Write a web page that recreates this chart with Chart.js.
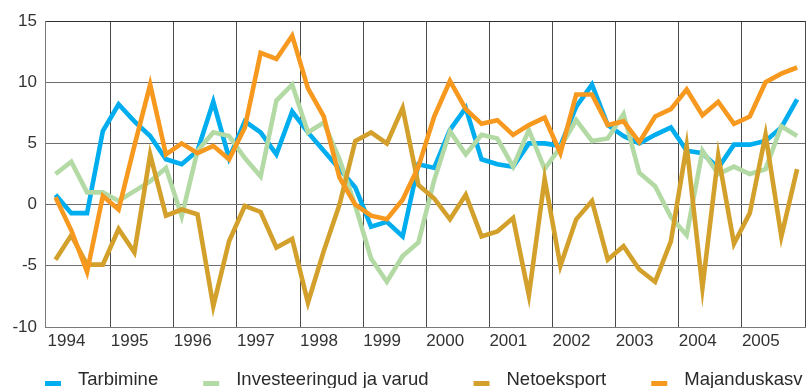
<!DOCTYPE html>
<html>
<head>
<meta charset="utf-8">
<script src="https://cdn.jsdelivr.net/npm/chart.js@4/dist/chart.umd.min.js"></script>
<style>
  html, body { margin: 0; padding: 0; background: #ffffff; }
  #wrap { width: 809px; height: 388px; position: relative; }
</style>
</head>
<body>
<div id="wrap"><canvas id="c" width="809" height="388"></canvas></div>
<script>
// Quarterly growth contributions, 1994–2005 (percentage points)
const years = [1994, 1995, 1996, 1997, 1998, 1999, 2000, 2001, 2002, 2003, 2004, 2005];
const quarters = years.flatMap(y => ['I', 'II', 'III', 'IV'].map(q => y + ' ' + q));

const seriesNames = ['Tarbimine', 'Investeeringud ja varud', 'Netoeksport', 'Majanduskasv'];

const tarbimine = [
  0.8, -0.7, -0.7, 6.0, 8.2, 6.8, 5.6, 3.7, 3.3, 4.4, 8.4, 3.8,
  6.8, 5.9, 4.1, 7.6, 5.9, 4.4, 2.9, 1.4, -1.8, -1.4, -2.6, 3.3,
  3.0, 6.1, 7.9, 3.7, 3.3, 3.1, 5.0, 5.0, 4.8, 8.0, 9.8, 6.5,
  5.6, 5.0, 5.7, 6.3, 4.4, 4.2, 3.0, 4.9, 4.9, 5.2, 6.3, 8.6
];
const investeeringud = [
  2.5, 3.5, 1.0, 1.0, 0.3, 1.1, 1.9, 3.0, -0.95, 4.4, 5.9, 5.6,
  3.8, 2.3, 8.5, 9.8, 5.9, 6.7, 3.7, -0.1, -4.4, -6.3, -4.2, -3.1,
  2.0, 6.0, 4.1, 5.7, 5.4, 3.1, 6.1, 2.9, 4.7, 6.9, 5.2, 5.4,
  7.4, 2.6, 1.5, -1.0, -2.5, 4.4, 2.5, 3.1, 2.5, 2.9, 6.4, 5.6
];
const netoeksport = [
  -4.5, -2.5, -4.9, -4.9, -2.0, -3.9, 4.1, -0.9, -0.4, -0.8, -8.3, -3.0,
  -0.1, -0.6, -3.5, -2.8, -8.0, -3.8, 0.0, 5.2, 5.9, 5.0, 7.9, 1.6,
  0.5, -1.2, 0.8, -2.6, -2.2, -1.1, -7.4, 2.1, -5.0, -1.2, 0.3, -4.5,
  -3.4, -5.3, -6.3, -3.0, 4.8, -6.8, 4.0, -3.2, -0.7, 5.7, -2.6, 2.9
];
const majanduskasv = [
  0.6, -2.1, -5.5, 0.7, -0.4, 4.8, 9.8, 4.1, 5.0, 4.2, 4.8, 3.7,
  6.3, 12.4, 11.9, 13.8, 9.5, 7.2, 2.2, 0.0, -0.9, -1.2, 0.4, 3.1,
  7.2, 10.1, 7.8, 6.6, 6.9, 5.7, 6.5, 7.1, 4.2, 9.0, 9.0, 6.5,
  6.8, 5.1, 7.2, 7.8, 9.4, 7.3, 8.4, 6.6, 7.2, 10.0, 10.7, 11.2
];
const yTicks = [-10, -5, 0, 5, 10, 15];

const colors = ['#00adee', '#b3daa4', '#d3a02b', '#f7981f'];
const FONT = '"Liberation Sans", Arial, Helvetica, sans-serif';

// each quarter is plotted in the middle of its slot on a year-based linear axis
const toPoints = vals => vals.map((v, i) => ({ x: i + 0.5, y: v, q: quarters[i] }));

const allSeries = [tarbimine, investeeringud, netoeksport, majanduskasv];
const datasets = allSeries.map((vals, k) => ({
  label: seriesNames[k],
  data: toPoints(vals),
  borderColor: colors[k],
  backgroundColor: colors[k],
  borderWidth: 4.6,
  pointRadius: 0,
  tension: 0,
  fill: false,
  order: allSeries.length - k
}));

// legend row under the plot: small flat swatch followed by the series name
const bottomLegend = {
  id: 'bottomLegend',
  afterDraw(chart) {
    const ctx = chart.ctx;
    const left = chart.chartArea.left;
    const baseY = 385;
    ctx.save();
    ctx.font = '18.5px ' + FONT;
    ctx.textBaseline = 'alphabetic';
    ctx.textAlign = 'left';
    let x = left;
    chart.data.datasets.forEach(ds => {
      ctx.fillStyle = ds.borderColor;
      ctx.fillRect(x, 381, 16, 5);
      ctx.fillStyle = '#2a2a2a';
      const tx = x + 16 + 17;
      ctx.fillText(ds.label, tx, baseY);
      x = tx + ctx.measureText(ds.label).width + 45;
    });
    ctx.restore();
  }
};

new Chart(document.getElementById('c'), {
  type: 'line',
  data: { datasets },
  options: {
    responsive: false,
    animation: false,
    events: [],
    layout: { padding: { top: 21, right: 4, bottom: 34, left: 0 } },
    plugins: { legend: { display: false }, tooltip: { enabled: false } },
    scales: {
      x: {
        type: 'linear',
        min: -0.165,
        max: 48,
        afterBuildTicks: s => { s.ticks = years.concat([years[years.length - 1] + 1]).map((y, i) => ({ value: i * 4 })); },
        afterFit: s => { s.height = 27; },
        grid: {
          drawTicks: false,
          color: c => (c.tick && c.tick.value === 0) ? 'rgba(0,0,0,0)' : '#4a4a4a',
          lineWidth: 1
        },
        border: { display: true, color: '#7a7a7a', width: 1 },
        ticks: {
          autoSkip: false,
          maxRotation: 0,
          align: 'start',
          padding: 4,
          color: '#333333',
          font: { family: FONT, size: 17 },
          callback: v => (v / 4 < years.length) ? String(years[v / 4]) : ''
        }
      },
      y: {
        min: -10,
        max: 15,
        afterBuildTicks: s => { s.ticks = yTicks.map(v => ({ value: v })); },
        afterFit: s => { s.width = 45; },
        grid: {
          drawTicks: false,
          color: c => (c.tick && c.tick.value === 15) ? '#2e2e2e' : '#6e6e6e',
          lineWidth: 1
        },
        border: { display: true, color: '#7a7a7a', width: 1 },
        ticks: {
          padding: 8,
          color: '#333333',
          font: { family: FONT, size: 17 },
          callback: v => String(v)
        }
      }
    }
  },
  plugins: [bottomLegend]
});
</script>
</body>
</html>
